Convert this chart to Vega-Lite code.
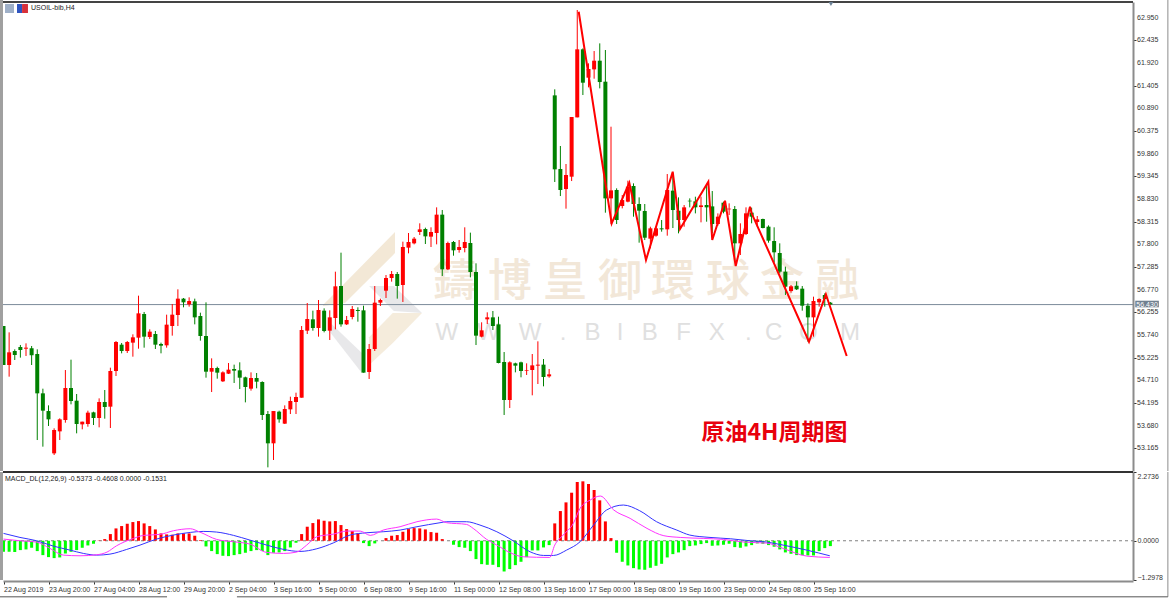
{"$schema":"https://vega.github.io/schema/vega-lite/v6.json","padding":0,"autosize":"none","width":1170,"height":599,"background":"white","config":{"view":{"stroke":null},"axis":{"labelFont":"Liberation Sans","labelFontSize":7,"labelColor":"#333333","tickColor":"#333333","grid":false,"title":null},"text":{"font":"Liberation Sans"}},
"datasets":{"candles":[
{"i":0,"open":55.943,"high":55.943,"low":55.057,"close":55.057,"hist":-0.364},
{"i":1,"open":55.057,"high":55.799,"low":54.792,"close":55.345,"hist":-0.364},
{"i":2,"open":55.375,"high":55.413,"low":55.171,"close":55.284,"hist":-0.375},
{"i":3,"open":55.466,"high":55.512,"low":55.224,"close":55.398,"hist":-0.309},
{"i":4,"open":55.428,"high":55.549,"low":55.262,"close":55.451,"hist":-0.287},
{"i":5,"open":55.436,"high":55.489,"low":55.057,"close":55.277,"hist":-0.232},
{"i":6,"open":55.307,"high":55.413,"low":53.352,"close":54.413,"hist":-0.342},
{"i":7,"open":54.413,"high":54.519,"low":53.201,"close":54.019,"hist":-0.475},
{"i":8,"open":54.011,"high":54.14,"low":53.671,"close":53.822,"hist":-0.541},
{"i":9,"open":53.049,"high":53.618,"low":53.011,"close":53.58,"hist":-0.574},
{"i":10,"open":53.549,"high":53.845,"low":53.352,"close":53.822,"hist":-0.552},
{"i":11,"open":53.807,"high":54.943,"low":53.746,"close":54.534,"hist":-0.419},
{"i":12,"open":54.534,"high":55.178,"low":54.163,"close":54.239,"hist":-0.364},
{"i":13,"open":54.246,"high":54.398,"low":53.504,"close":53.716,"hist":-0.309},
{"i":14,"open":53.708,"high":53.769,"low":53.595,"close":53.769,"hist":-0.232},
{"i":15,"open":53.716,"high":54.019,"low":53.655,"close":53.974,"hist":-0.155},
{"i":16,"open":53.981,"high":53.996,"low":53.693,"close":53.852,"hist":-0.099},
{"i":17,"open":53.852,"high":54.299,"low":53.64,"close":54.216,"hist":0.011},
{"i":18,"open":54.216,"high":54.489,"low":53.837,"close":54.102,"hist":0.055},
{"i":19,"open":54.11,"high":54.996,"low":53.625,"close":54.921,"hist":0.221},
{"i":20,"open":54.921,"high":55.602,"low":54.807,"close":55.58,"hist":0.408},
{"i":21,"open":55.519,"high":55.557,"low":55.322,"close":55.375,"hist":0.486},
{"i":22,"open":55.375,"high":55.602,"low":55.33,"close":55.58,"hist":0.563},
{"i":23,"open":55.565,"high":55.754,"low":55.246,"close":55.686,"hist":0.618},
{"i":24,"open":55.678,"high":56.633,"low":55.428,"close":56.231,"hist":0.651},
{"i":25,"open":56.216,"high":56.262,"low":55.451,"close":55.701,"hist":0.574},
{"i":26,"open":55.693,"high":55.868,"low":55.648,"close":55.815,"hist":0.486},
{"i":27,"open":55.761,"high":55.83,"low":55.421,"close":55.519,"hist":0.375},
{"i":28,"open":55.534,"high":55.565,"low":55.322,"close":55.496,"hist":0.243},
{"i":29,"open":55.504,"high":56.201,"low":55.451,"close":55.974,"hist":0.21},
{"i":30,"open":55.943,"high":56.443,"low":55.724,"close":56.201,"hist":0.199},
{"i":31,"open":56.193,"high":56.777,"low":55.943,"close":56.565,"hist":0.243},
{"i":32,"open":56.565,"high":56.58,"low":56.368,"close":56.481,"hist":0.243},
{"i":33,"open":56.436,"high":56.595,"low":56.383,"close":56.511,"hist":0.243},
{"i":34,"open":56.504,"high":56.565,"low":55.981,"close":56.14,"hist":0.166},
{"i":35,"open":56.171,"high":56.246,"low":55.61,"close":55.716,"hist":0.022},
{"i":36,"open":55.716,"high":56.481,"low":54.769,"close":54.905,"hist":-0.188},
{"i":37,"open":54.905,"high":55.208,"low":54.443,"close":54.989,"hist":-0.342},
{"i":38,"open":54.989,"high":55.019,"low":54.746,"close":54.883,"hist":-0.442},
{"i":39,"open":54.686,"high":54.913,"low":54.671,"close":54.89,"hist":-0.497},
{"i":40,"open":54.86,"high":55.102,"low":54.852,"close":54.951,"hist":-0.508},
{"i":41,"open":54.966,"high":55.065,"low":54.648,"close":54.928,"hist":-0.475},
{"i":42,"open":54.936,"high":55.118,"low":54.511,"close":54.769,"hist":-0.442},
{"i":43,"open":54.777,"high":54.792,"low":54.208,"close":54.557,"hist":-0.397},
{"i":44,"open":54.519,"high":54.89,"low":54.474,"close":54.761,"hist":-0.342},
{"i":45,"open":54.761,"high":54.875,"low":54.527,"close":54.678,"hist":-0.309},
{"i":46,"open":54.671,"high":54.686,"low":53.807,"close":53.921,"hist":-0.342},
{"i":47,"open":53.943,"high":54.011,"low":52.731,"close":53.277,"hist":-0.475},
{"i":48,"open":53.277,"high":54.011,"low":52.898,"close":54.011,"hist":-0.397},
{"i":49,"open":53.996,"high":54.019,"low":53.746,"close":53.822,"hist":-0.386},
{"i":50,"open":53.724,"high":54.14,"low":53.716,"close":54.057,"hist":-0.342},
{"i":51,"open":54.049,"high":54.337,"low":53.943,"close":54.239,"hist":-0.221},
{"i":52,"open":54.216,"high":54.428,"low":53.943,"close":54.33,"hist":-0.066},
{"i":53,"open":54.314,"high":55.943,"low":54.314,"close":55.852,"hist":0.221},
{"i":54,"open":55.837,"high":56.466,"low":55.761,"close":56.102,"hist":0.464},
{"i":55,"open":56.095,"high":56.292,"low":55.837,"close":55.898,"hist":0.585},
{"i":56,"open":55.898,"high":56.534,"low":55.701,"close":56.307,"hist":0.706},
{"i":57,"open":56.292,"high":56.345,"low":55.799,"close":55.83,"hist":0.662},
{"i":58,"open":55.837,"high":56.299,"low":55.625,"close":56.14,"hist":0.64},
{"i":59,"open":56.125,"high":57.178,"low":55.868,"close":56.845,"hist":0.651},
{"i":60,"open":56.852,"high":57.61,"low":55.928,"close":55.981,"hist":0.519},
{"i":61,"open":55.981,"high":56.171,"low":55.966,"close":56.08,"hist":0.386},
{"i":62,"open":56.148,"high":56.398,"low":56.095,"close":56.33,"hist":0.32},
{"i":63,"open":56.307,"high":56.368,"low":56.042,"close":56.284,"hist":0.243},
{"i":64,"open":56.299,"high":56.405,"low":54.883,"close":54.883,"hist":-0.077},
{"i":65,"open":54.898,"high":55.534,"low":54.739,"close":55.421,"hist":-0.177},
{"i":66,"open":55.421,"high":56.852,"low":55.375,"close":56.474,"hist":-0.088},
{"i":67,"open":56.474,"high":56.565,"low":56.398,"close":56.534,"hist":0},
{"i":68,"open":56.746,"high":57.102,"low":56.58,"close":57.034,"hist":0.088},
{"i":69,"open":57.034,"high":57.193,"low":56.951,"close":57.125,"hist":0.166},
{"i":70,"open":57.125,"high":57.171,"low":56.565,"close":56.852,"hist":0.188},
{"i":71,"open":56.875,"high":57.86,"low":56.489,"close":57.739,"hist":0.298},
{"i":72,"open":57.724,"high":58.057,"low":57.595,"close":57.852,"hist":0.386},
{"i":73,"open":57.822,"high":57.966,"low":57.799,"close":57.928,"hist":0.419},
{"i":74,"open":58.08,"high":58.277,"low":58.012,"close":58.14,"hist":0.408},
{"i":75,"open":58.148,"high":58.178,"low":57.807,"close":57.981,"hist":0.375},
{"i":76,"open":57.974,"high":58.186,"low":57.739,"close":58.08,"hist":0.287},
{"i":77,"open":58.057,"high":58.64,"low":57.799,"close":58.474,"hist":0.265},
{"i":78,"open":58.474,"high":58.58,"low":57.08,"close":57.231,"hist":0.055},
{"i":79,"open":57.231,"high":57.86,"low":57.216,"close":57.83,"hist":0},
{"i":80,"open":57.852,"high":57.875,"low":57.542,"close":57.663,"hist":-0.132},
{"i":81,"open":57.671,"high":57.898,"low":57.61,"close":57.739,"hist":-0.21},
{"i":82,"open":57.716,"high":58.186,"low":57.618,"close":57.852,"hist":-0.232},
{"i":83,"open":57.83,"high":58.065,"low":57.049,"close":57.171,"hist":-0.342},
{"i":84,"open":57.171,"high":57.368,"low":55.511,"close":55.724,"hist":-0.607},
{"i":85,"open":55.701,"high":56.027,"low":55.686,"close":55.845,"hist":-0.773},
{"i":86,"open":56.095,"high":56.254,"low":55.989,"close":56.14,"hist":-0.795},
{"i":87,"open":56.14,"high":56.284,"low":55.852,"close":55.943,"hist":-0.795},
{"i":88,"open":55.981,"high":56.155,"low":55.095,"close":55.102,"hist":-0.872},
{"i":89,"open":55.125,"high":55.352,"low":53.921,"close":54.261,"hist":-1.016},
{"i":90,"open":54.261,"high":55.14,"low":54.08,"close":55.118,"hist":-0.938},
{"i":91,"open":55.095,"high":55.11,"low":54.89,"close":55.042,"hist":-0.806},
{"i":92,"open":55.118,"high":55.133,"low":54.777,"close":54.921,"hist":-0.695},
{"i":93,"open":54.928,"high":55.095,"low":54.83,"close":54.943,"hist":-0.541},
{"i":94,"open":54.943,"high":55.307,"low":54.368,"close":55.049,"hist":-0.32},
{"i":95,"open":55.042,"high":55.595,"low":54.625,"close":55.065,"hist":-0.32},
{"i":96,"open":55.065,"high":55.193,"low":54.572,"close":54.784,"hist":-0.221},
{"i":97,"open":54.799,"high":54.966,"low":54.769,"close":54.845,"hist":-0.144},
{"i":98,"open":61.185,"high":61.322,"low":59.216,"close":59.504,"hist":0.574},
{"i":99,"open":59.511,"high":60.034,"low":58.897,"close":59.034,"hist":0.982},
{"i":100,"open":59.056,"high":59.625,"low":58.61,"close":59.375,"hist":1.269},
{"i":101,"open":59.337,"high":60.693,"low":59.238,"close":60.693,"hist":1.589},
{"i":102,"open":60.685,"high":63.125,"low":60.685,"close":62.231,"hist":1.943},
{"i":103,"open":62.231,"high":62.253,"low":61.193,"close":61.473,"hist":1.965},
{"i":104,"open":61.587,"high":61.913,"low":61.367,"close":61.784,"hist":1.876},
{"i":105,"open":61.776,"high":62.193,"low":61.564,"close":61.973,"hist":1.678},
{"i":106,"open":61.973,"high":62.367,"low":61.344,"close":61.488,"hist":1.336},
{"i":107,"open":61.496,"high":62.216,"low":58.519,"close":58.844,"hist":0.64},
{"i":108,"open":58.844,"high":60.473,"low":58.261,"close":59.026,"hist":0.088},
{"i":109,"open":59.034,"high":59.072,"low":58.261,"close":58.352,"hist":-0.397},
{"i":110,"open":58.67,"high":58.92,"low":58.617,"close":58.806,"hist":-0.695},
{"i":111,"open":58.769,"high":59.246,"low":58.754,"close":59.11,"hist":-0.817},
{"i":112,"open":59.125,"high":59.185,"low":58.428,"close":58.716,"hist":-0.905},
{"i":113,"open":58.716,"high":58.867,"low":57.837,"close":58.564,"hist":-0.949},
{"i":114,"open":58.557,"high":58.716,"low":57.897,"close":57.95,"hist":-0.96},
{"i":115,"open":57.928,"high":58.2,"low":57.708,"close":58.163,"hist":-0.894},
{"i":116,"open":57.996,"high":58.2,"low":57.973,"close":58.163,"hist":-0.828},
{"i":117,"open":58.163,"high":58.352,"low":58.087,"close":58.14,"hist":-0.762},
{"i":118,"open":58.14,"high":59.397,"low":57.996,"close":59.034,"hist":-0.552},
{"i":119,"open":59.019,"high":59.413,"low":58.17,"close":58.579,"hist":-0.442},
{"i":120,"open":58.564,"high":58.867,"low":58.049,"close":58.352,"hist":-0.386},
{"i":121,"open":58.352,"high":58.693,"low":58.2,"close":58.64,"hist":-0.309},
{"i":122,"open":58.791,"high":58.844,"low":58.64,"close":58.776,"hist":-0.177},
{"i":123,"open":58.776,"high":58.882,"low":58.503,"close":58.64,"hist":-0.155},
{"i":124,"open":58.647,"high":58.882,"low":58.299,"close":58.685,"hist":-0.11},
{"i":125,"open":58.693,"high":59.163,"low":58.314,"close":58.64,"hist":-0.077},
{"i":126,"open":58.662,"high":59.011,"low":58.049,"close":58.261,"hist":-0.166},
{"i":127,"open":58.261,"high":58.503,"low":58.223,"close":58.428,"hist":-0.155},
{"i":128,"open":58.746,"high":58.769,"low":58.504,"close":58.542,"hist":-0.132},
{"i":129,"open":58.595,"high":58.731,"low":58.466,"close":58.61,"hist":-0.099},
{"i":130,"open":58.602,"high":58.67,"low":57.405,"close":57.822,"hist":-0.21},
{"i":131,"open":57.822,"high":58.277,"low":57.557,"close":58.034,"hist":-0.232},
{"i":132,"open":58.034,"high":58.64,"low":58.011,"close":58.504,"hist":-0.188},
{"i":133,"open":58.519,"high":58.633,"low":58.277,"close":58.428,"hist":-0.144},
{"i":134,"open":58.307,"high":58.443,"low":58.201,"close":58.367,"hist":-0.088},
{"i":135,"open":58.375,"high":58.383,"low":58.163,"close":58.17,"hist":-0.099},
{"i":136,"open":58.201,"high":58.231,"low":57.837,"close":57.883,"hist":-0.144},
{"i":137,"open":57.875,"high":58.186,"low":57.383,"close":57.618,"hist":-0.199},
{"i":138,"open":57.602,"high":57.822,"low":57.14,"close":57.178,"hist":-0.287},
{"i":139,"open":57.178,"high":57.292,"low":56.648,"close":56.837,"hist":-0.386},
{"i":140,"open":56.739,"high":56.875,"low":56.701,"close":56.845,"hist":-0.431},
{"i":141,"open":56.86,"high":56.958,"low":56.761,"close":56.777,"hist":-0.475},
{"i":142,"open":56.792,"high":56.852,"low":56.292,"close":56.405,"hist":-0.475},
{"i":143,"open":56.405,"high":56.458,"low":55.587,"close":56.14,"hist":-0.486},
{"i":144,"open":56.14,"high":56.61,"low":55.701,"close":56.511,"hist":-0.486},
{"i":145,"open":56.481,"high":56.572,"low":56.383,"close":56.557,"hist":-0.342},
{"i":146,"open":56.648,"high":56.686,"low":56.383,"close":56.557,"hist":-0.243},
{"i":147,"open":56.474,"high":56.489,"low":56.43,"close":56.43,"hist":-0.177}
],
"zigzag":[{"k":0,"i":102.26,"p":63.086},{"k":1,"i":108.12,"p":58.277},{"k":2,"i":111.25,"p":59.2},{"k":3,"i":114.22,"p":57.443},{"k":4,"i":118.97,"p":59.45},{"k":5,"i":120.27,"p":58.148},{"k":6,"i":125.3,"p":59.223},{"k":7,"i":126,"p":57.898},{"k":8,"i":128.27,"p":58.791},{"k":9,"i":130.17,"p":57.307},{"k":10,"i":132.71,"p":58.655},{"k":11,"i":133,"p":58.505},{"k":12,"i":143.2,"p":55.586},{"k":13,"i":146.2,"p":56.664},{"k":14,"i":149.9,"p":55.261}],
"macdlines":[
{"s":"blue","i":0,"v":0.243},{"s":"blue","i":2.93,"v":0.11},{"s":"blue","i":5.9,"v":0},{"s":"blue","i":8.86,"v":-0.177},{"s":"blue","i":11.82,"v":-0.309},{"s":"blue","i":14.2,"v":-0.419},{"s":"blue","i":16.56,"v":-0.475},{"s":"blue","i":18.93,"v":-0.442},{"s":"blue","i":21.9,"v":-0.287},{"s":"blue","i":24.27,"v":-0.144},{"s":"blue","i":27.2,"v":0.055},{"s":"blue","i":30.2,"v":0.188},{"s":"blue","i":33.2,"v":0.276},{"s":"blue","i":35.5,"v":0.309},{"s":"blue","i":37.9,"v":0.287},{"s":"blue","i":40.9,"v":0.177},{"s":"blue","i":43.8,"v":0.022},{"s":"blue","i":46.8,"v":-0.144},{"s":"blue","i":49.8,"v":-0.287},{"s":"blue","i":52.7,"v":-0.353},{"s":"blue","i":55.7,"v":-0.265},{"s":"blue","i":58.7,"v":-0.066},{"s":"blue","i":61.6,"v":0.188},{"s":"blue","i":64.6,"v":0.265},{"s":"blue","i":67.5,"v":0.298},{"s":"blue","i":70.5,"v":0.353},{"s":"blue","i":73.5,"v":0.464},{"s":"blue","i":77.6,"v":0.596},{"s":"blue","i":78.8,"v":0.629},{"s":"blue","i":82.3,"v":0.629},{"s":"blue","i":84.7,"v":0.519},{"s":"blue","i":87.7,"v":0.298},{"s":"blue","i":90.6,"v":0},{"s":"blue","i":93.6,"v":-0.364},{"s":"blue","i":96,"v":-0.486},{"s":"blue","i":97.8,"v":-0.486},{"s":"blue","i":100.1,"v":-0.309},{"s":"blue","i":102.5,"v":-0.033},{"s":"blue","i":104.9,"v":0.519},{"s":"blue","i":107.2,"v":1.015},{"s":"blue","i":110.2,"v":1.181},{"s":"blue","i":113.1,"v":0.993},{"s":"blue","i":116.1,"v":0.629},{"s":"blue","i":119.7,"v":0.353},{"s":"blue","i":122,"v":0.188},{"s":"blue","i":125.6,"v":0.11},{"s":"blue","i":129.2,"v":0.066},{"s":"blue","i":132.7,"v":0},{"s":"blue","i":135.7,"v":-0.044},{"s":"blue","i":138.6,"v":-0.144},{"s":"blue","i":142.8,"v":-0.309},{"s":"blue","i":146.9,"v":-0.497},
{"s":"magenta","i":0,"v":0.055},{"s":"magenta","i":2.93,"v":0},{"s":"magenta","i":5.9,"v":-0.044},{"s":"magenta","i":8.27,"v":-0.254},{"s":"magenta","i":10.64,"v":-0.475},{"s":"magenta","i":13.6,"v":-0.497},{"s":"magenta","i":16.56,"v":-0.464},{"s":"magenta","i":18.4,"v":-0.375},{"s":"magenta","i":20.1,"v":-0.166},{"s":"magenta","i":23.1,"v":0.077},{"s":"magenta","i":24.9,"v":0.177},{"s":"magenta","i":27.8,"v":0.21},{"s":"magenta","i":30.2,"v":0.331},{"s":"magenta","i":33.2,"v":0.397},{"s":"magenta","i":34.9,"v":0.287},{"s":"magenta","i":37.9,"v":0.044},{"s":"magenta","i":40.9,"v":-0.033},{"s":"magenta","i":43.8,"v":-0.11},{"s":"magenta","i":46.8,"v":-0.386},{"s":"magenta","i":49.8,"v":-0.419},{"s":"magenta","i":52.1,"v":-0.375},{"s":"magenta","i":53.9,"v":-0.143},{"s":"magenta","i":55.7,"v":0.132},{"s":"magenta","i":58.7,"v":0.221},{"s":"magenta","i":61,"v":0.32},{"s":"magenta","i":63.4,"v":0.32},{"s":"magenta","i":65.2,"v":0.177},{"s":"magenta","i":67.5,"v":0.353},{"s":"magenta","i":70.5,"v":0.464},{"s":"magenta","i":73.5,"v":0.629},{"s":"magenta","i":77,"v":0.717},{"s":"magenta","i":78.8,"v":0.596},{"s":"magenta","i":82.3,"v":0.541},{"s":"magenta","i":83.5,"v":0.408},{"s":"magenta","i":85.9,"v":0.044},{"s":"magenta","i":87.7,"v":-0.143},{"s":"magenta","i":90.1,"v":-0.397},{"s":"magenta","i":92.4,"v":-0.53},{"s":"magenta","i":97.1,"v":-0.552},{"s":"magenta","i":98,"v":-0.143},{"s":"magenta","i":99.5,"v":0.188},{"s":"magenta","i":101.3,"v":0.574},{"s":"magenta","i":102.5,"v":1.071},{"s":"magenta","i":104.3,"v":1.347},{"s":"magenta","i":106.1,"v":1.479},{"s":"magenta","i":108.5,"v":1.015},{"s":"magenta","i":111.4,"v":0.74},{"s":"magenta","i":114.4,"v":0.408},{"s":"magenta","i":117.4,"v":0.166},{"s":"magenta","i":120.3,"v":0.11},{"s":"magenta","i":124.5,"v":0.077},{"s":"magenta","i":128,"v":0.044},{"s":"magenta","i":131.6,"v":-0.044},{"s":"magenta","i":135.7,"v":-0.077},{"s":"magenta","i":138.6,"v":-0.254},{"s":"magenta","i":142.8,"v":-0.508},{"s":"magenta","i":146.9,"v":-0.552}
],
"logo":[
{"part":"tanA","i":56.8,"top":56.42,"bot":56.398},{"part":"tanA","i":60.7,"top":56.92,"bot":56.466},{"part":"tanA","i":69.6,"top":58.08,"bot":57.6},
{"part":"tanB","i":65,"top":55.69,"bot":55.057},{"part":"tanB","i":69.2,"top":56.24,"bot":55.557},{"part":"tanB","i":74.4,"top":56.24,"bot":56.24},
{"part":"grayA","i":65,"top":56.85,"bot":56.85},{"part":"grayA","i":69.4,"top":56.85,"bot":56.285},{"part":"grayA","i":74.4,"top":56.24,"bot":56.24},
{"part":"grayB","i":58,"top":56.03,"bot":55.81},{"part":"grayB","i":63.7,"top":55.33,"bot":54.875}
],
"wmcn":[{"t":"鑄","i":80.27,"p":56.92},{"t":"博","i":90.04,"p":56.92},{"t":"皇","i":99.82,"p":56.92},{"t":"御","i":109.6,"p":56.92},{"t":"環","i":119,"p":56.92},{"t":"球","i":128.8,"p":56.92},{"t":"金","i":138.4,"p":56.92},{"t":"融","i":148.2,"p":56.92}],
"wmen":[{"t":"W","i":78.8,"p":55.784},{"t":"W","i":86.2,"p":55.784},{"t":"W","i":93.6,"p":55.784},{"t":".","i":99.5,"p":55.784},{"t":"B","i":104.7,"p":55.784},{"t":"I","i":109.6,"p":55.784},{"t":"B","i":114.9,"p":55.784},{"t":"F","i":120.9,"p":55.784},{"t":"X","i":126.8,"p":55.784},{"t":".","i":132.4,"p":55.784},{"t":"C","i":136.9,"p":55.784},{"t":"O","i":143.1,"p":55.784},{"t":"M","i":150.5,"p":55.784}],
"pricelabels":[{"t":"62.950","i":201.51,"p":62.95},{"t":"62.435","i":201.51,"p":62.435},{"t":"61.920","i":201.51,"p":61.92},{"t":"61.405","i":201.51,"p":61.405},{"t":"60.890","i":201.51,"p":60.89},{"t":"60.375","i":201.51,"p":60.375},{"t":"59.860","i":201.51,"p":59.86},{"t":"59.345","i":201.51,"p":59.345},{"t":"58.830","i":201.51,"p":58.83},{"t":"58.315","i":201.51,"p":58.315},{"t":"57.800","i":201.51,"p":57.8},{"t":"57.285","i":201.51,"p":57.285},{"t":"56.770","i":201.51,"p":56.77},{"t":"56.255","i":201.51,"p":56.255},{"t":"55.740","i":201.51,"p":55.74},{"t":"55.225","i":201.51,"p":55.225},{"t":"54.710","i":201.51,"p":54.71},{"t":"54.195","i":201.51,"p":54.195},{"t":"53.680","i":201.51,"p":53.68},{"t":"53.165","i":201.51,"p":53.165}]
},
"encoding":{"x":{"field":"i","type":"quantitative","scale":{"domain":[-0.089,200.8],"range":[3,1133],"padding":0,"nice":false,"zero":false},"axis":{"offset":-18,"values":[0,8,16,24,32,40,48,56,64,72,80,88,96,104,112,120,128,136,144],"labelExpr":"['22 Aug 2019','23 Aug 20:00','27 Aug 04:00','28 Aug 12:00','29 Aug 20:00','2 Sep 04:00','3 Sep 16:00','5 Sep 00:00','6 Sep 08:00','9 Sep 16:00','11 Sep 00:00','12 Sep 08:00','13 Sep 16:00','17 Sep 00:00','18 Sep 08:00','19 Sep 16:00','23 Sep 00:00','24 Sep 08:00','25 Sep 16:00'][round(datum.value/8)]","labelAlign":"left","labelBound":false,"labelFlush":false,"labelOverlap":false,"tickSize":3,"labelPadding":1,"domainColor":"#8c8c8c","domainWidth":2}}},
"resolve":{"scale":{"y":"independent"},"axis":{"y":"independent"}},
"layer":[
{"layer":[
{"data":{"name":"logo"},"mark":{"type":"area"},"encoding":{"y":{"field":"top","type":"quantitative","stack":null,"scale":{"domain":[52.648,63.307],"range":[471,2],"nice":false,"zero":false},"axis":{"orient":"right","offset":-37,"values":[62.95,62.435,61.92,61.405,60.89,60.375,59.86,59.345,58.83,58.315,57.8,57.285,56.77,56.255,55.74,55.225,54.71,54.195,53.68,53.165],"labels":false,"tickSize":3,"domainColor":"#8c8c8c","domainWidth":2}},"y2":{"field":"bot"},"color":{"field":"part","type":"nominal","legend":null,"scale":{"domain":["tanA","tanB","grayA","grayB","a","b","c","blue","magenta"],"range":["#f3e8d6","#f5ecdc","#e8e8ea","#e8e8ea","#9fb0c8","#2f55c0","#d8303a","#3333ff","#ff33ff"]}}}},
{"data":{"name":"wmcn"},"mark":{"type":"text","font":"Noto Sans CJK TC","fontSize":44,"fontWeight":500,"color":"#f2e7d8"},"encoding":{"y":{"field":"p","type":"quantitative"},"text":{"field":"t"}}},
{"data":{"name":"wmen"},"mark":{"type":"text","font":"Liberation Sans","fontSize":24,"color":"#e0e0e0"},"encoding":{"y":{"field":"p","type":"quantitative"},"text":{"field":"t"}}},
{"data":{"values":[{"i":-0.089,"i2":200.8,"p":56.43}]},"mark":{"type":"rule","color":"#7b8a9a","size":1},"encoding":{"x2":{"field":"i2"},"y":{"field":"p","type":"quantitative"}}},
{"data":{"name":"candles"},"mark":{"type":"rule","size":1},"encoding":{"y":{"field":"high","type":"quantitative"},"y2":{"field":"low"},"color":{"condition":{"test":"datum.close>datum.open","value":"#ff0000"},"value":"#008000"}}},
{"data":{"name":"candles"},"mark":{"type":"bar","size":4},"encoding":{"y":{"field":"open","type":"quantitative"},"y2":{"field":"close"},"color":{"condition":{"test":"datum.close>datum.open","value":"#ff0000"},"value":"#008000"}}},
{"data":{"name":"zigzag"},"mark":{"type":"line","color":"#ff0000","strokeWidth":2},"encoding":{"y":{"field":"p","type":"quantitative"},"order":{"field":"k"}}},
{"data":{"values":[{"t":"原油4H周期图","i":137.06,"p":53.511}]},"mark":{"type":"text","font":"Noto Sans CJK SC","fontSize":23,"fontWeight":"bold","color":"#e8000c"},"encoding":{"y":{"field":"p","type":"quantitative"},"text":{"field":"t"}}},
{"data":{"values":[{"t":"USOIL-bib,H4","i":4.89,"p":63.182}]},"mark":{"type":"text","align":"left","fontSize":7,"color":"#222222"},"encoding":{"y":{"field":"p","type":"quantitative"},"text":{"field":"t"}}},
{"data":{"values":[{"part":"a","i":0.27,"i2":1.87,"p":63.261,"p2":63.057},{"part":"b","i":2.4,"i2":3.3,"p":63.261,"p2":63.057},{"part":"c","i":3.3,"i2":4.35,"p":63.261,"p2":63.057}]},"mark":{"type":"rect"},"encoding":{"x2":{"field":"i2"},"y":{"field":"p","type":"quantitative"},"y2":{"field":"p2"},"color":{"field":"part","type":"nominal","legend":null,"scale":{"domain":["tanA","tanB","grayA","grayB","a","b","c","blue","magenta"],"range":["#f3e8d6","#f5ecdc","#e8e8ea","#e8e8ea","#9fb0c8","#2f55c0","#d8303a","#3333ff","#ff33ff"]}}}},
{"data":{"values":[{"i":-0.089,"i2":200.8,"p":63.307}]},"mark":{"type":"rule","color":"#444444","size":2},"encoding":{"x2":{"field":"i2"},"y":{"field":"p","type":"quantitative"}}},
{"data":{"values":[{"i":-0.356,"p":63.352,"p2":52.648}]},"mark":{"type":"rule","color":"#a0a0a0","size":3},"encoding":{"y":{"field":"p","type":"quantitative"},"y2":{"field":"p2"}}},
{"data":{"values":[{"i":207,"p":63.352,"p2":52.648}]},"mark":{"type":"rule","color":"#8c8c8c","size":1},"encoding":{"y":{"field":"p","type":"quantitative"},"y2":{"field":"p2"}}},
{"data":{"values":[{"i":147.1,"p":63.26}]},"mark":{"type":"point","shape":"triangle-down","filled":true,"size":22,"color":"#6a7f94","opacity":1},"encoding":{"y":{"field":"p","type":"quantitative"}}},
{"data":{"name":"pricelabels"},"mark":{"type":"text","align":"left","fontSize":7,"color":"#333333"},"encoding":{"y":{"field":"p","type":"quantitative"},"text":{"field":"t"}}},
{"data":{"values":[{"i":201.2,"i2":205.4,"p":56.518,"p2":56.368}]},"mark":{"type":"rect","color":"#708090"},"encoding":{"x2":{"field":"i2"},"y":{"field":"p","type":"quantitative"},"y2":{"field":"p2"}}},
{"data":{"values":[{"t":"56.430","i":203.3,"p":56.43}]},"mark":{"type":"text","fontSize":7,"color":"#ffffff"},"encoding":{"y":{"field":"p","type":"quantitative"},"text":{"field":"t"}}}
]},
{"layer":[
{"data":{"values":[{"i":-0.089,"i2":200.8,"v":0}]},"mark":{"type":"rule","color":"#808080","size":1,"strokeDash":[3,3]},"encoding":{"x2":{"field":"i2"},"y":{"field":"v","type":"quantitative","scale":{"domain":[-1.2978,2.2736],"range":[580,472],"nice":false,"zero":false},"axis":{"orient":"right","offset":-37,"values":[2.2736,0,-1.2978],"format":".4f","tickSize":3,"labelPadding":1,"labelFlush":true,"labelBound":false,"labelOverlap":false,"domainColor":"#8c8c8c","domainWidth":2}}}},
{"data":{"name":"candles"},"mark":{"type":"bar","size":3},"encoding":{"y":{"field":"hist","type":"quantitative"},"y2":{"datum":0},"color":{"condition":{"test":"datum.hist>0","value":"#ff0000"},"value":"#00ff00"}}},
{"data":{"name":"macdlines"},"mark":{"type":"line","strokeWidth":1,"interpolate":"monotone"},"encoding":{"y":{"field":"v","type":"quantitative"},"color":{"field":"s","type":"nominal","legend":null,"scale":{"domain":["tanA","tanB","grayA","grayB","a","b","c","blue","magenta"],"range":["#f3e8d6","#f5ecdc","#e8e8ea","#e8e8ea","#9fb0c8","#2f55c0","#d8303a","#3333ff","#ff33ff"]}}}},
{"data":{"values":[{"t":"MACD_DL(12,26,9) -0.5373 -0.4608 0.0000 -0.1531","i":0.27,"v":2.033}]},"mark":{"type":"text","align":"left","fontSize":7,"color":"#222222"},"encoding":{"y":{"field":"v","type":"quantitative"},"text":{"field":"t"}}},
{"data":{"values":[{"i":-0.089,"i2":200.8,"v":2.2736}]},"mark":{"type":"rule","color":"#333333","size":2},"encoding":{"x2":{"field":"i2"},"y":{"field":"v","type":"quantitative"}}},
{"data":{"values":[{"i":-0.356,"v":2.2736,"v2":-1.2978}]},"mark":{"type":"rule","color":"#a0a0a0","size":3},"encoding":{"y":{"field":"v","type":"quantitative"},"y2":{"field":"v2"}}},
{"data":{"values":[{"i":207,"v":2.2736,"v2":-1.854}]},"mark":{"type":"rule","color":"#8c8c8c","size":1},"encoding":{"y":{"field":"v","type":"quantitative"},"y2":{"field":"v2"}}},
{"data":{"values":[{"i":-0.62,"i2":29.07,"v":-1.854},{"i":41.5,"i2":207,"v":-1.854}]},"mark":{"type":"rule","color":"#555555","size":1},"encoding":{"x2":{"field":"i2"},"y":{"field":"v","type":"quantitative"}}}
]}
]}
